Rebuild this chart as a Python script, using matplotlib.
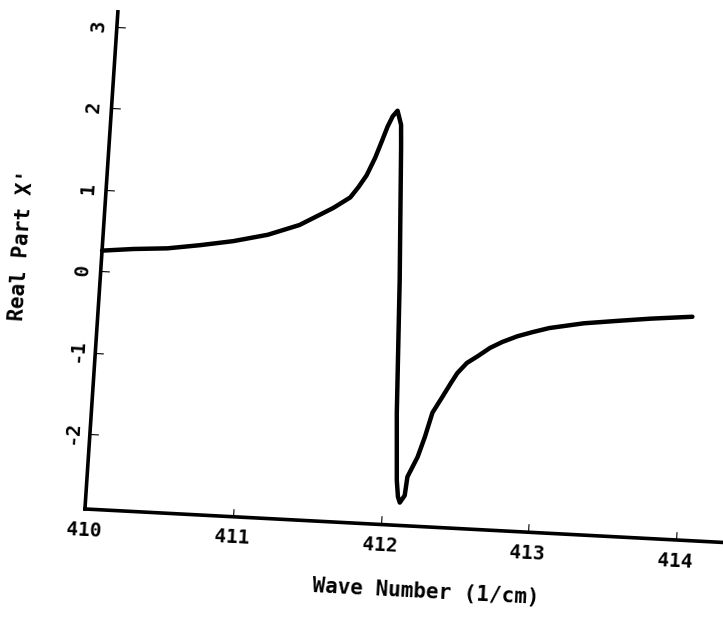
import numpy as np
import matplotlib
matplotlib.use('Agg')
import matplotlib.pyplot as plt
from matplotlib.transforms import Affine2D
from mpl_toolkits.axisartist import floating_axes
from mpl_toolkits.axisartist.grid_finder import FixedLocator, DictFormatter

plt.rcParams['font.family'] = ['DejaVu Sans Mono']
plt.rcParams['font.weight'] = 'bold'

# values
wave = [410.00, 410.21, 410.44, 410.66, 410.88, 411.11, 411.32, 411.54, 411.65,
        411.70, 411.75, 411.80, 411.84, 411.87, 411.90, 411.93, 411.96, 411.97,
        412.02, 412.06, 412.09, 412.105, 412.12, 412.15, 412.16, 412.22, 412.26,
        412.30, 412.36, 412.41, 412.45, 412.51, 412.58, 412.66, 412.74, 412.84,
        412.94, 413.05, 413.28, 413.50, 413.73, 414.01]
real = [0.25, 0.29, 0.32, 0.38, 0.45, 0.55, 0.69, 0.92, 1.06,
        1.19, 1.34, 1.56, 1.78, 1.95, 2.08, 2.15, 1.98, 1.71,
        0.08, -1.55, -2.37, -2.57, -2.64, -2.55, -2.32, -2.07, -1.82,
        -1.52, -1.32, -1.15, -1.02, -0.89, -0.80, -0.69, -0.61, -0.53,
        -0.47, -0.41, -0.33, -0.28, -0.23, -0.18]

x_ticks = [410, 411, 412, 413, 414]
y_ticks = [-2, -1, 0, 1, 2, 3]
x_lim = (410, 414.35)
y_lim = (-2.92, 3.18)

W, H = 723, 624
fig = plt.figure(figsize=(W / 100, H / 100), dpi=100)

# the scan is a bit off square, so data -> pixel is a small rotation/shear
tr = Affine2D.from_values(147.8, -7.75, 5.4, 81.5,
                          100.7 - 410 * 147.8, 353 + 410 * 7.75)

corners = tr.transform([[x_lim[0], y_lim[0]], [x_lim[0], y_lim[1]],
                        [x_lim[1], y_lim[0]], [x_lim[1], y_lim[1]]])
x0, y0 = corners.min(axis=0)
x1, y1 = corners.max(axis=0)
# floating axes pads its limits by 2%, so pad the rect the same way
cx, cy = (x0 + x1) / 2, (y0 + y1) / 2
w, h = (x1 - x0) * 1.02, (y1 - y0) * 1.02
rect = [(cx - w / 2) / W, (cy - h / 2) / H, w / W, h / H]

gh = floating_axes.GridHelperCurveLinear(
    tr, extremes=(x_lim[0], x_lim[1], y_lim[0], y_lim[1]),
    grid_locator1=FixedLocator(x_ticks),
    grid_locator2=FixedLocator(y_ticks),
    tick_formatter1=DictFormatter({v: str(v) for v in x_ticks}),
    tick_formatter2=DictFormatter({v: str(v) for v in y_ticks}))

ax = fig.add_axes(rect, axes_class=floating_axes.FloatingAxes, grid_helper=gh)
ax.patch.set_visible(False)
ax.axis["top"].set_visible(False)
ax.axis["right"].set_visible(False)

for side in ["left", "bottom"]:
    a = ax.axis[side]
    a.line.set_linewidth(2.6)
    a.major_ticks.set_ticksize(6)
    a.major_ticks.set_linewidth(2)
    a.major_ticklabels.set_fontsize(14)
    a.major_ticklabels.set_fontweight('bold')
    a.major_ticklabels.set_pad(9)
# y tick labels run along the axis, like the axis title
ax.axis["left"].major_ticklabels.set_axis_direction("top")
ax.axis["left"].major_ticklabels.set_pad(9)

aux = ax.get_aux_axes(tr)
aux.plot(wave, real, color='black', lw=3.2, solid_capstyle='round',
         solid_joinstyle='round')

fig.text(426 / W, 1 - 592 / H, 'Wave Number (1/cm)', rotation=-3.0,
         ha='center', va='center', fontsize=15, fontweight='bold')
fig.text(22 / W, 1 - 245 / H, "Real Part X'", rotation=86.2,
         ha='center', va='center', fontsize=15, fontweight='bold')

fig.savefig('out.png', dpi=100)
